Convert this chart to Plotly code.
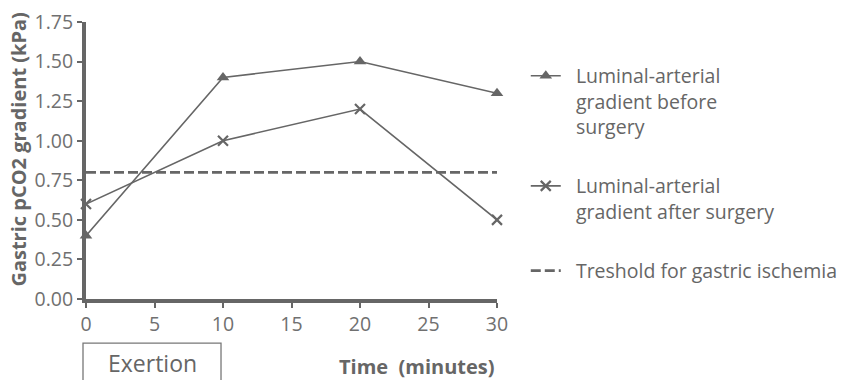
import plotly.graph_objects as go

# Time points (minutes) and gastric pCO2 gradients (kPa)
minutes = [0, 10, 20, 30]
before_surgery = [0.4, 1.4, 1.5, 1.3]
after_surgery = [0.6, 1.0, 1.2, 0.5]
threshold_x = [0, 30]
threshold_y = [0.8, 0.8]

x_ticks = [0, 5, 10, 15, 20, 25, 30]
y_ticks = [0.0, 0.25, 0.5, 0.75, 1.0, 1.25, 1.5, 1.75]
y_tick_text = ["0.00", "0.25", "0.50", "0.75", "1.00", "1.25", "1.50", "1.75"]

legend_names = [
    ["Luminal-arterial", "gradient before", "surgery"],
    ["Luminal-arterial", "gradient after surgery"],
    ["Treshold for gastric ischemia"],
]

GREY = "#666666"
FONT = "Open Sans"
PAD = "\u00a0\u00a0"


def legend_label(lines):
    # small indent between the legend symbol and each text line
    return "<br>".join(PAD + s for s in lines)


fig = go.Figure()

fig.add_trace(go.Scatter(
    x=minutes, y=before_surgery, mode="lines+markers",
    name=legend_label(legend_names[0]),
    legendgroup="before",
    line=dict(color=GREY, width=1.6),
    marker=dict(symbol="triangle-up", size=11, color=GREY),
    cliponaxis=False,
))
fig.add_trace(go.Scatter(
    x=minutes, y=after_surgery, mode="lines+markers",
    name=legend_label(legend_names[1]),
    legendgroup="after",
    line=dict(color=GREY, width=1.6),
    marker=dict(symbol="x-thin", size=10, color=GREY,
                line=dict(color=GREY, width=2.2)),
    cliponaxis=False,
))
fig.add_trace(go.Scatter(
    x=threshold_x, y=threshold_y, mode="lines",
    name=legend_label(legend_names[2]),
    legendgroup="threshold",
    line=dict(color=GREY, width=2.8, dash="10px,4px"),
    cliponaxis=False,
))

axis_common = dict(
    showgrid=False, zeroline=False, showline=True, automargin=False,
    linecolor=GREY, linewidth=4, ticks="outside",
    tickcolor=GREY, tickwidth=2, ticklen=5,
    tickfont=dict(family=FONT, size=19.5, color="#707070"),
)

fig.update_xaxes(range=[0, 30], tickvals=x_ticks, **axis_common)
fig.update_yaxes(range=[0, 1.75], tickvals=y_ticks, ticktext=y_tick_text,
                 **axis_common)

# Exertion period box under the axis
fig.add_shape(type="rect", xref="paper", yref="paper",
              x0=-0.0073, x1=0.3285, y0=-0.40, y1=-0.159,
              line=dict(color="#777777", width=1.3))

fig.add_annotation(text="Exertion", xref="paper", yref="paper",
                   x=0.161, y=-0.232, xanchor="center", yanchor="middle",
                   showarrow=False,
                   font=dict(family=FONT, size=23, color=GREY))
fig.add_annotation(text="Time  (minutes)", xref="x", yref="paper",
                   x=30, y=-0.245, xanchor="right", yanchor="middle",
                   showarrow=False,
                   font=dict(family=FONT, size=20, color=GREY, weight="bold"))
fig.add_annotation(text="Gastric pCO2 gradient (kPa)", xref="paper",
                   yref="paper", x=-0.165, y=0.54, textangle=-90,
                   xanchor="center", yanchor="middle", showarrow=False,
                   font=dict(family=FONT, size=20, color=GREY, weight="bold"))

fig.update_layout(
    width=865, height=380,
    margin=dict(l=86, r=368, t=22, b=81, autoexpand=False),
    plot_bgcolor="white", paper_bgcolor="white",
    font=dict(family=FONT, color=GREY),
    legend=dict(x=1.07, y=0.875, xanchor="left", yanchor="top",
                valign="top", tracegroupgap=31, itemwidth=30,
                font=dict(family=FONT, size=19.5, color=GREY),
                bgcolor="rgba(0,0,0,0)"),
    showlegend=True,
)

fig.write_html("out.html")
